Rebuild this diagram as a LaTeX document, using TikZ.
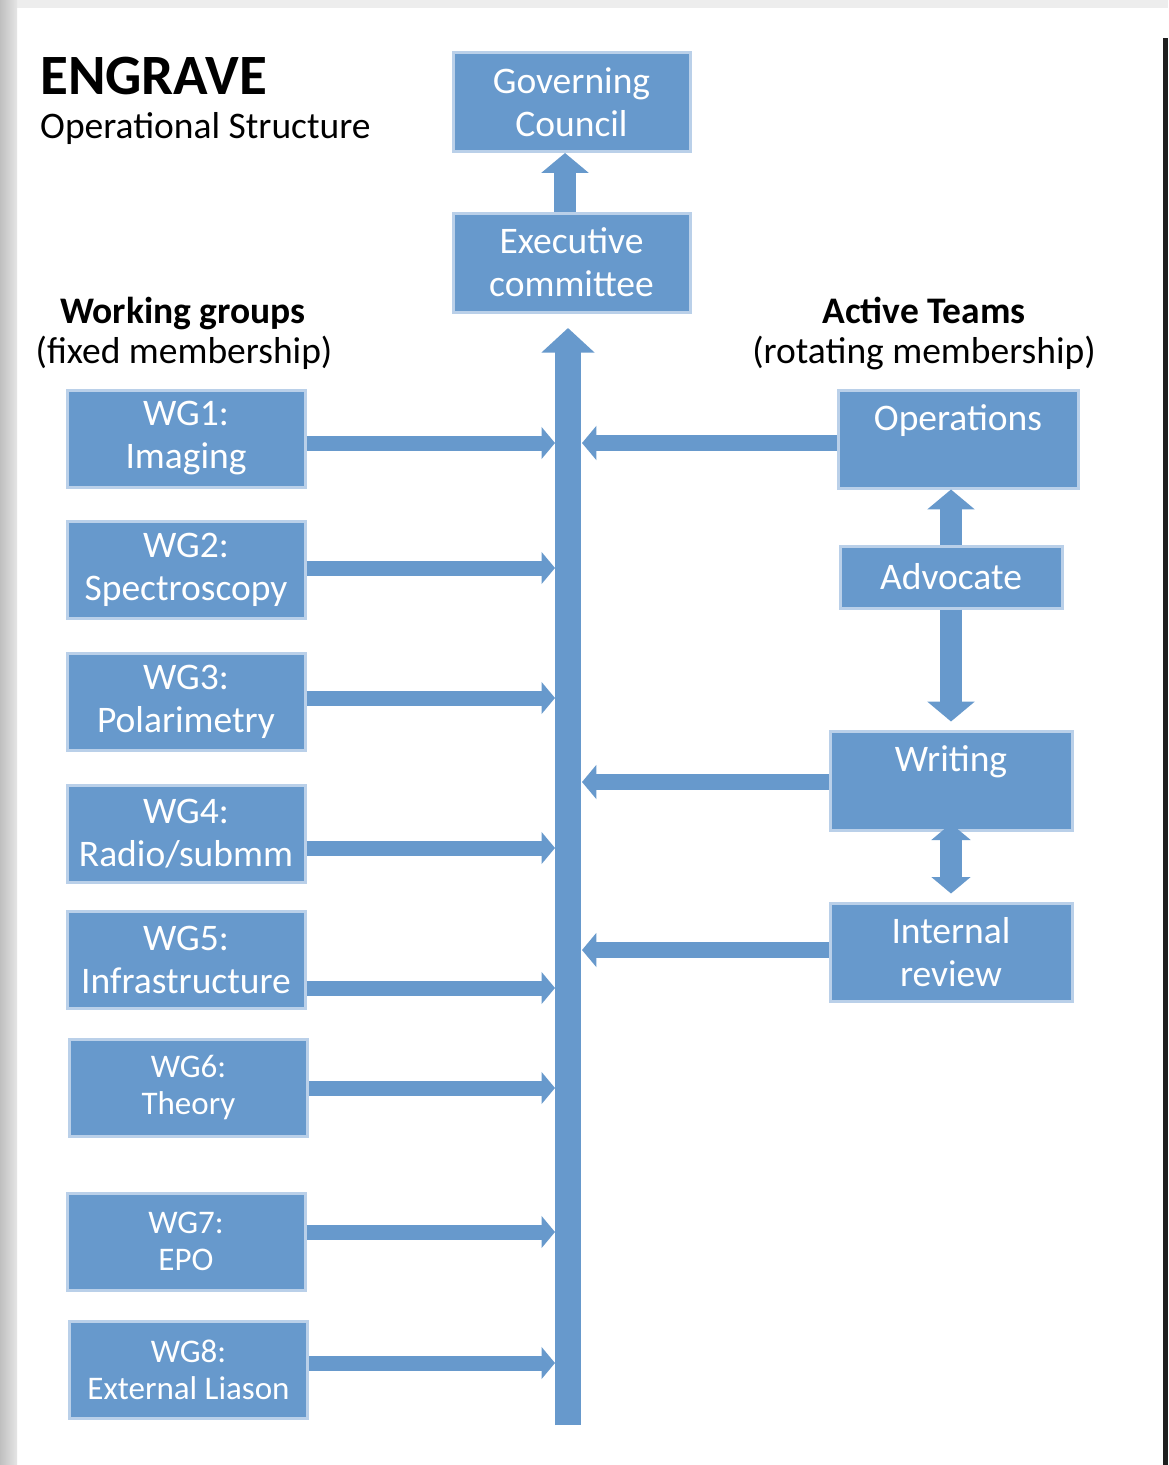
\documentclass[tikz,border=0pt]{standalone}
\usepackage{fontspec}
\setmainfont{Carlito}
\usetikzlibrary{arrows.meta,calc}
\definecolor{boxblue}{RGB}{103,153,204}
\definecolor{glow}{RGB}{186,208,233}
\begin{document}
\begin{tikzpicture}[x=1pt,y=-1pt,
  box/.style={rectangle, fill=boxblue, draw=glow, line width=3pt, inner sep=0pt,
    align=center, text=white, font=\fontsize{37.5}{43}\selectfont},
  smallbox/.style={box, font=\fontsize{33}{37}\selectfont},
  wgbox/.style={box, minimum width=238pt, minimum height=97pt},
  wgsbox/.style={smallbox, minimum width=238pt, minimum height=97pt},
  topbox/.style={box, minimum width=237pt, minimum height=99pt},
  teambox/.style={box, minimum width=242pt, minimum height=98pt},
  heading/.style={font=\fontsize{37.5}{40}\selectfont\bfseries, anchor=base},
  subheading/.style={font=\fontsize{37.5}{40}\selectfont, anchor=base},
  blockarrow/.style={draw=boxblue, line width=#1,
    -{Triangle[width=0pt 2.1, length=0pt 0.9]}},
  dblarrow/.style={draw=boxblue, line width=#1,
    {Triangle[width=0pt 1.75, length=0pt 0.75]}-{Triangle[width=0pt 1.75, length=0pt 0.75]}},
]
\useasboundingbox (0,0) rectangle (1168,1465);
% page frame of the screenshot
\fill[white] (0,0) rectangle (1168,1465);
\fill[black!7] (0,0) rectangle (1168,8);
\shade[left color=black!25, right color=black!10] (0,0) rectangle (17,1465);
\fill[black!88] (1163,38) rectangle (1168,1465);

% titles
\node[anchor=base west, inner sep=0pt, font=\fontsize{57}{60}\selectfont\bfseries] (title) at (40,94) {ENGRAVE};
\node[anchor=base west, inner sep=0pt, font=\fontsize{37.5}{40}\selectfont] (subtitle) at (40,138) {Operational Structure};
\node[heading] (wgh) at (183,323) {Working groups};
\node[subheading] (wgs) at (184,363) {(fixed membership)};
\node[heading] (ath) at (924,323) {Active Teams};
\node[subheading] (ats) at (924,363) {(rotating membership)};

% central boxes
\node[topbox] (gov) at (571.5,102) {Governing\\Council};
\node[topbox] (exec) at (571.5,262.5) {Executive\\committee};

% working groups
\node[wgbox] (wg1) at (186,438.5) {WG1:\\Imaging};
\node[wgbox] (wg2) at (186,569.5) {WG2:\\Spectroscopy};
\node[wgbox] (wg3) at (186,701.5) {WG3:\\Polarimetry};
\node[wgbox] (wg4) at (186,833.5) {WG4:\\Radio/submm};
\node[wgbox] (wg5) at (186,959.5) {WG5:\\Infrastructure};
\node[wgsbox] (wg6) at (188.5,1087.5) {WG6:\\Theory};
\node[wgsbox] (wg7) at (186,1241.5) {WG7:\\EPO};
\node[wgsbox] (wg8) at (188.5,1369.5) {WG8:\\External Liason};

% active teams
\node[box, minimum width=240pt, minimum height=98pt] (ops) at (958,439) {Operations\\\mbox{}};
\node[box, minimum width=222pt, minimum height=62pt] (adv) at (951,577) {Advocate};
\node[teambox, minimum height=99pt] (writ) at (951,780.5) {Writing\\\mbox{}};
\node[teambox] (irev) at (951,952) {Internal\\review};

% central bar
\coordinate (barbot) at (568,1425);
\coordinate (bartop) at (568,328);
\draw[blockarrow=26pt, -{Triangle[width=0pt 2, length=0pt 0.95]}] (barbot) -- (bartop);

% exec -> governing council
\draw[blockarrow=22pt] ($(exec.north)+(-6.5,0)$) -- ($(gov.south)+(-6.5,0)$);

% working group arrows into the bar
\coordinate (in1) at (555,443);
\coordinate (in2) at (555,568);
\coordinate (in3) at (555,698);
\coordinate (in4) at (555,848);
\coordinate (in5) at (555,988);
\coordinate (in6) at (555,1088);
\coordinate (in7) at (555,1232);
\coordinate (in8) at (555,1363);
\foreach \i in {1,...,8} {
  \draw[blockarrow=15pt] (wg\i.east |- in\i) -- (in\i);
}

% active team arrows into the bar
\coordinate (out1) at (582,443);
\coordinate (out2) at (582,782);
\coordinate (out3) at (582,950);
\draw[blockarrow=16pt] (ops.west |- out1) -- (out1);
\draw[blockarrow=16pt] (writ.west |- out2) -- (out2);
\draw[blockarrow=16pt] (irev.west |- out3) -- (out3);

% active team internal arrows
\draw[blockarrow=22pt] (adv.north) -- (adv.north |- ops.south);
\draw[blockarrow=22pt, shorten >=8pt] (adv.south) -- (adv.south |- writ.north);
\draw[dblarrow=22pt, shorten <=-8pt, shorten >=8pt] (writ.south) -- (irev.north);
\end{tikzpicture}
\end{document}
